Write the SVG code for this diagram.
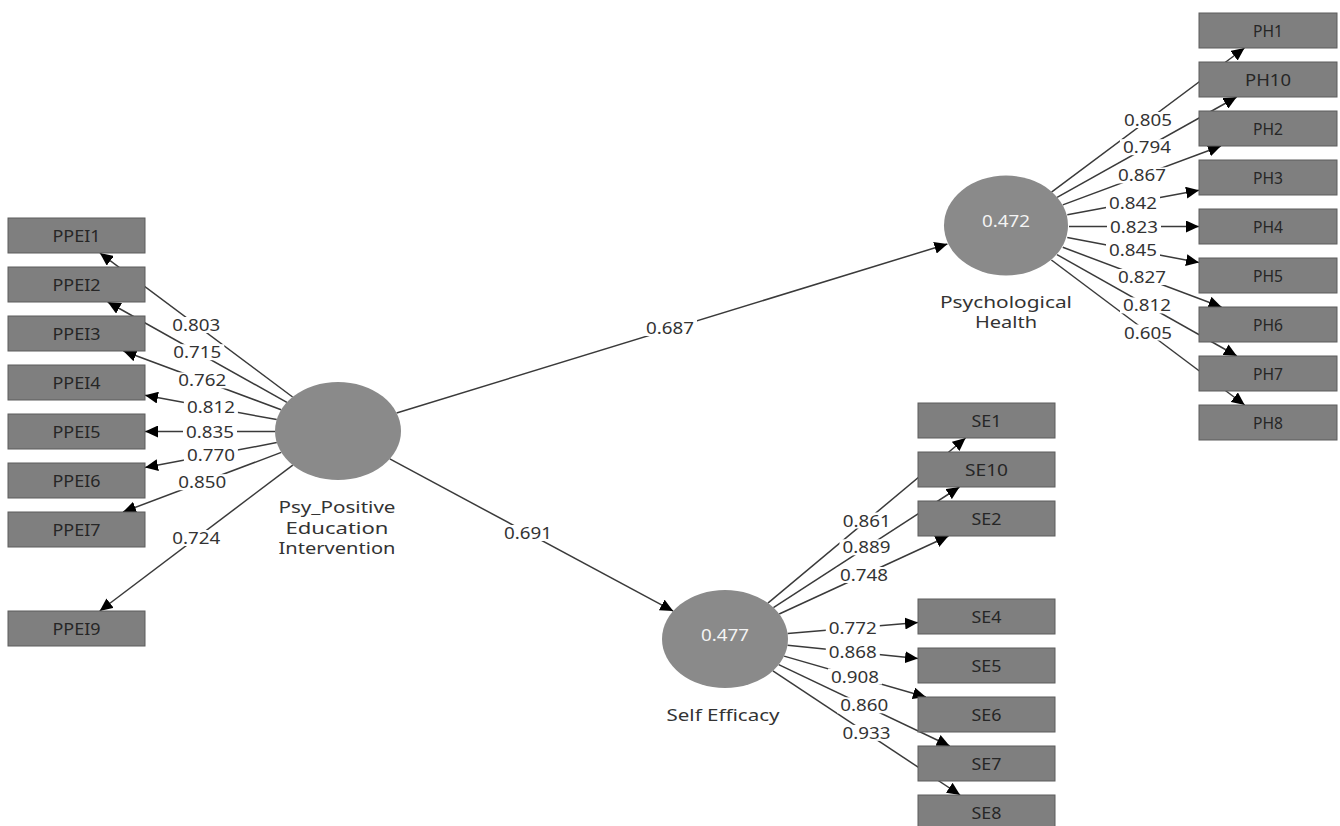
<svg xmlns="http://www.w3.org/2000/svg" width="1340" height="826" viewBox="0 0 1340 826">
<defs>
<marker id="ah" markerUnits="userSpaceOnUse" markerWidth="14" markerHeight="12" refX="13" refY="6" orient="auto">
<path d="M0,0 L13,6 L0,12 z" fill="#000"/>
</marker>
<style>
.c line{stroke:#3a3a3a;stroke-width:1.5;fill:none;marker-end:url(#ah)}
.lb rect{fill:#fff}
.t{font-family:"Noto Sans","Open Sans",sans-serif;font-size:17px;text-anchor:middle}
.lt{fill:#333}
.n rect{fill:#7f7f7f;stroke:#5c5c5c;stroke-width:1}
.bt{fill:#262626}
.lv ellipse{fill:#8a8a8a}
.vt{fill:#f4f4f4}
.nt{fill:#333}
</style>
</defs>
<rect width="1340" height="826" fill="#fff"/>
<g id="connectors" class="c">
<line x1="292.6" y1="397" x2="99.9" y2="253"/>
<line x1="286.9" y1="402.4" x2="107.7" y2="302"/>
<line x1="281.2" y1="409.8" x2="123.4" y2="351"/>
<line x1="276.7" y1="419.6" x2="145" y2="395.2"/>
<line x1="275" y1="431.5" x2="145" y2="431.5"/>
<line x1="276.8" y1="442.6" x2="145" y2="467.5"/>
<line x1="281.3" y1="452.4" x2="123" y2="512"/>
<line x1="292.8" y1="465.1" x2="99.7" y2="611"/>
<line x1="1051.5" y1="192.1" x2="1244.5" y2="48"/>
<line x1="1057.1" y1="197.4" x2="1236.7" y2="97"/>
<line x1="1062.8" y1="204.9" x2="1221" y2="146"/>
<line x1="1067.3" y1="214.7" x2="1199" y2="190.3"/>
<line x1="1069" y1="226.5" x2="1199" y2="226.5"/>
<line x1="1067.3" y1="237.6" x2="1199" y2="262.5"/>
<line x1="1062.8" y1="247.3" x2="1221.5" y2="307"/>
<line x1="1057" y1="254.7" x2="1236.9" y2="356"/>
<line x1="1051.4" y1="260" x2="1244.7" y2="405"/>
<line x1="767.9" y1="603.1" x2="965.6" y2="438"/>
<line x1="773.4" y1="607.6" x2="959.5" y2="487"/>
<line x1="779.2" y1="614" x2="948.5" y2="536"/>
<line x1="787.6" y1="633.6" x2="918" y2="622.4"/>
<line x1="787.5" y1="645.3" x2="918" y2="658.6"/>
<line x1="784.1" y1="656.1" x2="925.9" y2="697"/>
<line x1="778.7" y1="664.6" x2="949.7" y2="746"/>
<line x1="772.9" y1="670.8" x2="960.1" y2="795"/>
<line x1="396.6" y1="413" x2="947.4" y2="244"/>
<line x1="389.8" y1="458.9" x2="673.2" y2="611.1"/>
</g>
<g id="connector-labels">
<g class="lb">
<rect x="169.3" y="317" width="54" height="16"/>
<rect x="170.3" y="344.2" width="54" height="16"/>
<rect x="175.3" y="372.4" width="54" height="16"/>
<rect x="183.9" y="399.4" width="54" height="16"/>
<rect x="183" y="423.5" width="54" height="16"/>
<rect x="183.9" y="447" width="54" height="16"/>
<rect x="175.2" y="474.2" width="54" height="16"/>
<rect x="169.3" y="530" width="54" height="16"/>
<rect x="1121" y="112" width="54" height="16"/>
<rect x="1119.9" y="139.2" width="54" height="16"/>
<rect x="1114.9" y="167.4" width="54" height="16"/>
<rect x="1106" y="194.5" width="54" height="16"/>
<rect x="1107" y="218.5" width="54" height="16"/>
<rect x="1106" y="242" width="54" height="16"/>
<rect x="1115" y="269" width="54" height="16"/>
<rect x="1120" y="297.4" width="54" height="16"/>
<rect x="1121" y="324.5" width="54" height="16"/>
<rect x="839.7" y="512.5" width="54" height="16"/>
<rect x="839.5" y="539.3" width="54" height="16"/>
<rect x="836.9" y="567" width="54" height="16"/>
<rect x="825.8" y="620" width="54" height="16"/>
<rect x="825.8" y="644" width="54" height="16"/>
<rect x="828" y="668.5" width="54" height="16"/>
<rect x="837.2" y="697.3" width="54" height="16"/>
<rect x="839.5" y="724.9" width="54" height="16"/>
<rect x="643" y="320" width="54" height="16"/>
<rect x="501" y="525" width="54" height="16"/>
</g>
<g class="t lt">
<text x="196.3" y="331" textLength="48" lengthAdjust="spacingAndGlyphs">0.803</text>
<text x="197.3" y="358.2" textLength="48" lengthAdjust="spacingAndGlyphs">0.715</text>
<text x="202.3" y="386.4" textLength="48" lengthAdjust="spacingAndGlyphs">0.762</text>
<text x="210.9" y="413.4" textLength="48" lengthAdjust="spacingAndGlyphs">0.812</text>
<text x="210" y="437.5" textLength="48" lengthAdjust="spacingAndGlyphs">0.835</text>
<text x="210.9" y="461" textLength="48" lengthAdjust="spacingAndGlyphs">0.770</text>
<text x="202.2" y="488.2" textLength="48" lengthAdjust="spacingAndGlyphs">0.850</text>
<text x="196.3" y="544" textLength="48" lengthAdjust="spacingAndGlyphs">0.724</text>
<text x="1148" y="126" textLength="48" lengthAdjust="spacingAndGlyphs">0.805</text>
<text x="1146.9" y="153.2" textLength="48" lengthAdjust="spacingAndGlyphs">0.794</text>
<text x="1141.9" y="181.4" textLength="48" lengthAdjust="spacingAndGlyphs">0.867</text>
<text x="1133" y="208.5" textLength="48" lengthAdjust="spacingAndGlyphs">0.842</text>
<text x="1134" y="232.5" textLength="48" lengthAdjust="spacingAndGlyphs">0.823</text>
<text x="1133" y="256" textLength="48" lengthAdjust="spacingAndGlyphs">0.845</text>
<text x="1142" y="283" textLength="48" lengthAdjust="spacingAndGlyphs">0.827</text>
<text x="1147" y="311.4" textLength="48" lengthAdjust="spacingAndGlyphs">0.812</text>
<text x="1148" y="338.5" textLength="48" lengthAdjust="spacingAndGlyphs">0.605</text>
<text x="866.7" y="526.5" textLength="48" lengthAdjust="spacingAndGlyphs">0.861</text>
<text x="866.5" y="553.3" textLength="48" lengthAdjust="spacingAndGlyphs">0.889</text>
<text x="863.9" y="581" textLength="48" lengthAdjust="spacingAndGlyphs">0.748</text>
<text x="852.8" y="634" textLength="48" lengthAdjust="spacingAndGlyphs">0.772</text>
<text x="852.8" y="658" textLength="48" lengthAdjust="spacingAndGlyphs">0.868</text>
<text x="855" y="682.5" textLength="48" lengthAdjust="spacingAndGlyphs">0.908</text>
<text x="864.2" y="711.3" textLength="48" lengthAdjust="spacingAndGlyphs">0.860</text>
<text x="866.5" y="738.9" textLength="48" lengthAdjust="spacingAndGlyphs">0.933</text>
<text x="670" y="334" textLength="48" lengthAdjust="spacingAndGlyphs">0.687</text>
<text x="528" y="539" textLength="48" lengthAdjust="spacingAndGlyphs">0.691</text>
</g>
</g>
<g id="PPEI1" class="n"><rect x="8" y="218" width="137" height="35"/><text class="t bt" x="76.5" y="242" textLength="48" lengthAdjust="spacingAndGlyphs">PPEI1</text></g>
<g id="PPEI2" class="n"><rect x="8" y="267" width="137" height="35"/><text class="t bt" x="76.5" y="291" textLength="48" lengthAdjust="spacingAndGlyphs">PPEI2</text></g>
<g id="PPEI3" class="n"><rect x="8" y="316" width="137" height="35"/><text class="t bt" x="76.5" y="340" textLength="48" lengthAdjust="spacingAndGlyphs">PPEI3</text></g>
<g id="PPEI4" class="n"><rect x="8" y="365" width="137" height="35"/><text class="t bt" x="76.5" y="389" textLength="48" lengthAdjust="spacingAndGlyphs">PPEI4</text></g>
<g id="PPEI5" class="n"><rect x="8" y="414" width="137" height="35"/><text class="t bt" x="76.5" y="438" textLength="48" lengthAdjust="spacingAndGlyphs">PPEI5</text></g>
<g id="PPEI6" class="n"><rect x="8" y="463" width="137" height="35"/><text class="t bt" x="76.5" y="487" textLength="48" lengthAdjust="spacingAndGlyphs">PPEI6</text></g>
<g id="PPEI7" class="n"><rect x="8" y="512" width="137" height="35"/><text class="t bt" x="76.5" y="536" textLength="48" lengthAdjust="spacingAndGlyphs">PPEI7</text></g>
<g id="PPEI9" class="n"><rect x="8" y="611" width="137" height="35"/><text class="t bt" x="76.5" y="635" textLength="48" lengthAdjust="spacingAndGlyphs">PPEI9</text></g>
<g id="PH1" class="n"><rect x="1199" y="13" width="138" height="35"/><text class="t bt" x="1268" y="37" textLength="30" lengthAdjust="spacingAndGlyphs">PH1</text></g>
<g id="PH10" class="n"><rect x="1199" y="62" width="138" height="35"/><text class="t bt" x="1268" y="86" textLength="46" lengthAdjust="spacingAndGlyphs">PH10</text></g>
<g id="PH2" class="n"><rect x="1199" y="111" width="138" height="35"/><text class="t bt" x="1268" y="135" textLength="30" lengthAdjust="spacingAndGlyphs">PH2</text></g>
<g id="PH3" class="n"><rect x="1199" y="160" width="138" height="35"/><text class="t bt" x="1268" y="184" textLength="30" lengthAdjust="spacingAndGlyphs">PH3</text></g>
<g id="PH4" class="n"><rect x="1199" y="209" width="138" height="35"/><text class="t bt" x="1268" y="233" textLength="30" lengthAdjust="spacingAndGlyphs">PH4</text></g>
<g id="PH5" class="n"><rect x="1199" y="258" width="138" height="35"/><text class="t bt" x="1268" y="282" textLength="30" lengthAdjust="spacingAndGlyphs">PH5</text></g>
<g id="PH6" class="n"><rect x="1199" y="307" width="138" height="35"/><text class="t bt" x="1268" y="331" textLength="30" lengthAdjust="spacingAndGlyphs">PH6</text></g>
<g id="PH7" class="n"><rect x="1199" y="356" width="138" height="35"/><text class="t bt" x="1268" y="380" textLength="30" lengthAdjust="spacingAndGlyphs">PH7</text></g>
<g id="PH8" class="n"><rect x="1199" y="405" width="138" height="35"/><text class="t bt" x="1268" y="429" textLength="30" lengthAdjust="spacingAndGlyphs">PH8</text></g>
<g id="SE1" class="n"><rect x="918" y="403" width="137" height="35"/><text class="t bt" x="986.5" y="427" textLength="30" lengthAdjust="spacingAndGlyphs">SE1</text></g>
<g id="SE10" class="n"><rect x="918" y="452" width="137" height="35"/><text class="t bt" x="986.5" y="476" textLength="43" lengthAdjust="spacingAndGlyphs">SE10</text></g>
<g id="SE2" class="n"><rect x="918" y="501" width="137" height="35"/><text class="t bt" x="986.5" y="525" textLength="30" lengthAdjust="spacingAndGlyphs">SE2</text></g>
<g id="SE4" class="n"><rect x="918" y="599" width="137" height="35"/><text class="t bt" x="986.5" y="623" textLength="30" lengthAdjust="spacingAndGlyphs">SE4</text></g>
<g id="SE5" class="n"><rect x="918" y="648" width="137" height="35"/><text class="t bt" x="986.5" y="672" textLength="30" lengthAdjust="spacingAndGlyphs">SE5</text></g>
<g id="SE6" class="n"><rect x="918" y="697" width="137" height="35"/><text class="t bt" x="986.5" y="721" textLength="30" lengthAdjust="spacingAndGlyphs">SE6</text></g>
<g id="SE7" class="n"><rect x="918" y="746" width="137" height="35"/><text class="t bt" x="986.5" y="770" textLength="30" lengthAdjust="spacingAndGlyphs">SE7</text></g>
<g id="SE8" class="n"><rect x="918" y="795" width="137" height="35"/><text class="t bt" x="986.5" y="819" textLength="30" lengthAdjust="spacingAndGlyphs">SE8</text></g>
<g id="PPE" class="lv"><ellipse cx="338" cy="431" rx="63" ry="49"/>
<text class="t nt" x="337" y="513" textLength="117" lengthAdjust="spacingAndGlyphs">Psy_Positive</text>
<text class="t nt" x="337" y="533.5" textLength="103" lengthAdjust="spacingAndGlyphs">Education</text>
<text class="t nt" x="337" y="554" textLength="117" lengthAdjust="spacingAndGlyphs">Intervention</text></g>
<g id="PH" class="lv"><ellipse cx="1006" cy="225.5" rx="62" ry="50"/>
<text class="t vt" x="1006" y="226.5" textLength="48" lengthAdjust="spacingAndGlyphs">0.472</text>
<text class="t nt" x="1006" y="307.5" textLength="132" lengthAdjust="spacingAndGlyphs">Psychological</text>
<text class="t nt" x="1006" y="328" textLength="62" lengthAdjust="spacingAndGlyphs">Health</text></g>
<g id="SE" class="lv"><ellipse cx="725" cy="639" rx="63" ry="49"/>
<text class="t vt" x="725" y="640.5" textLength="48" lengthAdjust="spacingAndGlyphs">0.477</text>
<text class="t nt" x="723" y="720.5" textLength="113" lengthAdjust="spacingAndGlyphs">Self Efficacy</text></g>
</svg>
